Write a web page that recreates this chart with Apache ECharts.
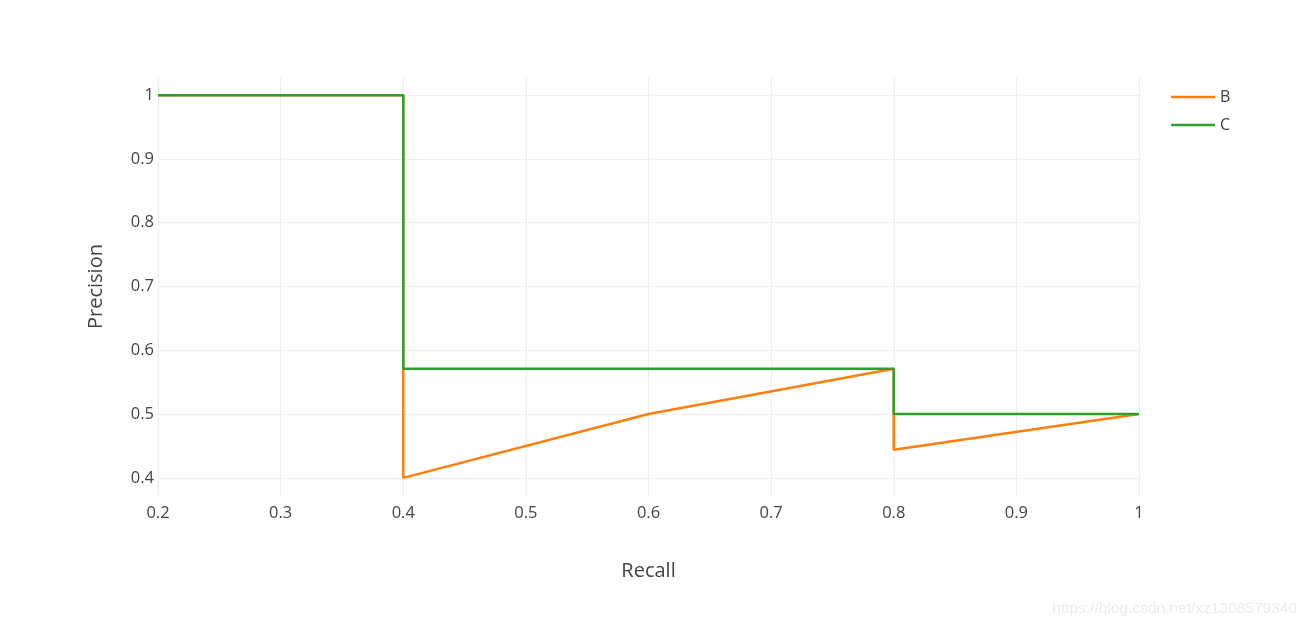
<!DOCTYPE html>
<html>
<head>
<meta charset="utf-8">
<script src="https://cdn.jsdelivr.net/npm/echarts@6/dist/echarts.min.js"></script>
<style>html,body{margin:0;padding:0;background:#fff;}#c{width:1308px;height:629px;}</style>
</head>
<body>
<div id="c"></div>
<script>
var recallB = [0.2, 0.4, 0.4, 0.4, 0.6, 0.8, 0.8, 1.0];
var precisionB = [1.0, 1.0, 0.571, 0.4, 0.5, 0.571, 0.444, 0.5];
var recallC = [0.2, 0.4, 0.4, 0.8, 0.8, 1.0];
var precisionC = [1.0, 1.0, 0.571, 0.571, 0.5, 0.5];
var yTicks = [0.4, 0.5, 0.6, 0.7, 0.8, 0.9, 1.0];
var seriesNames = ['B', 'C'];

function pairs(xs, ys) { return xs.map(function (x, i) { return [x, ys[i]]; }); }

var font = '"Open Sans", "Noto Sans", sans-serif';
var chart = echarts.init(document.getElementById('c'), null, { renderer: 'canvas' });
chart.setOption({
  animation: false,
  backgroundColor: '#fff',
  grid: { left: 158, right: 169, top: 76, bottom: 132, containLabel: false },
  legend: {
    orient: 'vertical', left: 1166, top: 84, itemGap: 12,
    itemWidth: 44, itemHeight: 16,
    icon: 'path://M0,7 L44,7 L44,9.5 L0,9.5 Z',
    textStyle: { fontFamily: font, fontSize: 16, color: '#444' },
    data: seriesNames
  },
  xAxis: {
    type: 'value', min: 0.2, max: 1, interval: 0.1,
    name: 'Recall', nameLocation: 'middle', nameGap: 64,
    nameTextStyle: { fontFamily: font, fontSize: 20, color: '#444' },
    axisLine: { show: false }, axisTick: { show: false },
    axisLabel: { fontFamily: font, fontSize: 16.5, color: '#444', margin: 8 },
    splitLine: { show: true, lineStyle: { color: '#eeeeee', width: 1 } }
  },
  yAxis: {
    type: 'value', min: 0.37, max: 1.03,
    name: 'Precision', nameLocation: 'middle', nameGap: 52,
    nameTextStyle: { fontFamily: font, fontSize: 20, color: '#444' },
    axisLine: { show: false },
    axisTick: { show: false, customValues: yTicks },
    axisLabel: { fontFamily: font, fontSize: 16.5, color: '#444', margin: 4, customValues: yTicks },
    splitLine: { show: true, lineStyle: { color: '#eeeeee', width: 1 } }
  },
  graphic: [{
    type: 'text', right: 11, bottom: 12,
    style: { text: 'https://blog.csdn.net/xz1308579340', fill: '#ececec', font: '15.5px "Liberation Sans", sans-serif' }
  }],
  series: [
    { name: 'B', type: 'line', data: pairs(recallB, precisionB), showSymbol: false, symbol: 'none',
      lineStyle: { color: '#ff7f0e', width: 2.5 }, itemStyle: { color: '#ff7f0e' } },
    { name: 'C', type: 'line', data: pairs(recallC, precisionC), showSymbol: false, symbol: 'none',
      lineStyle: { color: '#2ca02c', width: 2.5 }, itemStyle: { color: '#2ca02c' } }
  ]
});
</script>
</body>
</html>
